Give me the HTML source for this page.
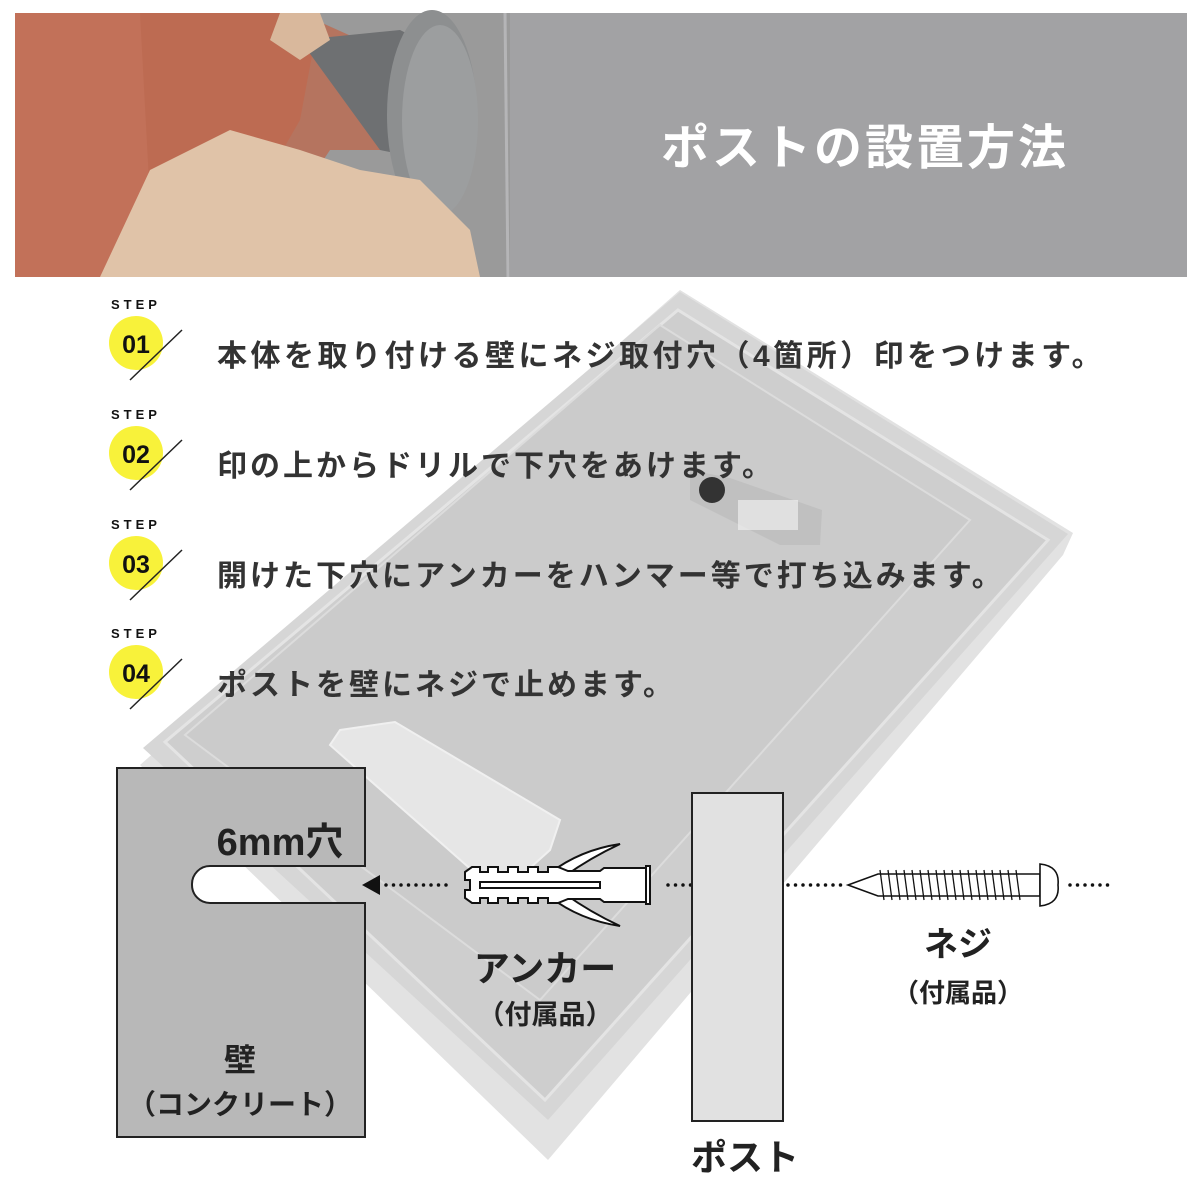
<!DOCTYPE html>
<html><head><meta charset="utf-8"><style>
html,body{margin:0;padding:0;background:#fff;width:1200px;height:1200px;overflow:hidden}
svg{display:block}
text{font-family:"Liberation Sans","Noto Sans CJK JP",sans-serif;font-weight:bold}
</style></head><body>
<svg width="1200" height="1200" viewBox="0 0 1200 1200" xmlns="http://www.w3.org/2000/svg">
<!-- banner -->
<rect x="15" y="13" width="1172" height="264" fill="#a2a2a4"/>
<rect x="15" y="13" width="495" height="264" fill="#9a9a9a"/>
<path d="M15,13 H320 L300,120 L210,277 H15Z" fill="#c27159"/>
<path d="M140,13 H300 L360,40 L430,60 L470,130 L440,200 L400,150 L330,150 L270,240 L200,277 H130 L150,200 Z" fill="#bb6a50" opacity="0.8"/>
<path d="M300,40 L400,30 L460,60 L470,140 L430,160 L380,150 Z" fill="#6e7072"/>
<ellipse cx="432" cy="115" rx="45" ry="105" fill="#8d8f90"/>
<ellipse cx="440" cy="120" rx="38" ry="95" fill="#9c9e9f"/>
<path d="M100,277 L150,170 L230,130 L300,150 L360,170 L420,180 L470,230 L480,277 Z" fill="#e0c3a8"/>
<path d="M280,13 H320 L330,40 L300,60 L270,40Z" fill="#d9b89c"/>
<line x1="505" y1="13" x2="508" y2="277" stroke="#b5b5b7" stroke-width="3"/>
<text x="865" y="164" font-size="48" fill="#fff" text-anchor="middle" letter-spacing="3">ポストの設置方法</text>

<!-- mailbox -->
<polygon points="680,290 1073,533 1063,555 548,1160 140,765" fill="#e2e2e2"/>
<polygon points="680,292 1068,534 548,1120 143,748" fill="#d6d6d6"/>
<polygon points="678,310 1048,540 545,1100 165,742" fill="#cecece" stroke="#e4e4e4" stroke-width="3"/>
<polygon points="660,325 970,520 540,1000 185,735" fill="#cbcbcb" stroke="#dcdcdc" stroke-width="2"/>
<polygon points="340,730 395,722 560,820 550,850 500,895 330,745" fill="#e6e6e6" stroke="#f0f0f0" stroke-width="2"/>
<polygon points="690,470 730,478 822,510 820,545 780,545 690,500" fill="#c0c0c0"/>
<circle cx="712" cy="490" r="13" fill="#333"/>
<rect x="738" y="500" width="60" height="30" fill="#eee" opacity="0.7"/>

<!-- wall -->
<path d="M117,768 H365 V866 H210 A18,18 0 0 0 192,884 V885 A18,18 0 0 0 210,903 H365 V1137 H117 Z" fill="#b8b8b8" stroke="#222" stroke-width="2"/>
<text x="280" y="855" font-size="38" fill="#222" text-anchor="middle">6mm穴</text>
<text x="240" y="1071" font-size="32" fill="#222" text-anchor="middle">壁</text>
<text x="240" y="1114" font-size="28" fill="#222" text-anchor="middle">（コンクリート）</text>

<!-- arrow + dots -->
<polygon points="362,885 380,875 380,895" fill="#111"/>
<line x1="386" y1="885" x2="448" y2="885" stroke="#111" stroke-width="3.5" stroke-dasharray="0 7.5" stroke-linecap="round"/>
<line x1="668" y1="885" x2="843" y2="885" stroke="#111" stroke-width="3.5" stroke-dasharray="0 7.5" stroke-linecap="round"/>
<line x1="1070" y1="885" x2="1115" y2="885" stroke="#111" stroke-width="3.5" stroke-dasharray="0 7.5" stroke-linecap="round"/>

<!-- anchor -->
<g fill="#fff" stroke="#111" stroke-width="2">
<path d="M550,873 Q580,850 620,844 Q590,858 565,876Z"/>
<path d="M550,897 Q580,920 620,926 Q590,912 565,894Z"/>
<path d="M465,872 L472,867 H480 V872 H488 V867 H498 V872 H508 V867 H518 V872 H528 V867 H538 V872 H548 V867 H558 L568,871 H600 L604,868 H646 V902 H604 L600,899 H568 L558,903 H548 V898 H538 V903 H528 V898 H518 V903 H508 V898 H498 V903 H488 V898 H480 V903 H472 L465,898 V890 H470 V880 H465Z"/>
<rect x="646" y="866" width="4" height="38"/>
<rect x="480" y="882" width="120" height="6"/>
</g>
<text x="545" y="981" font-size="36" fill="#222" text-anchor="middle">アンカー</text>
<text x="545" y="1024" font-size="27" fill="#222" text-anchor="middle">（付属品）</text>

<!-- post -->
<rect x="692" y="793" width="91" height="328" fill="#e1e1e1" stroke="#222" stroke-width="2"/>
<text x="745" y="1170" font-size="36" fill="#222" text-anchor="middle">ポスト</text>

<!-- screw -->
<g stroke="#111" stroke-width="1.6" fill="#fff">
<path d="M848,885 L878,874 H1040 V896 H878 Z"/>
<path d="M1040,864 Q1060,866 1058,885 Q1060,904 1040,906 Z"/>
</g>
<g stroke="#111" stroke-width="1.3">
<line x1="880" y1="870" x2="884" y2="900"/><line x1="888" y1="870" x2="892" y2="900"/><line x1="896" y1="870" x2="900" y2="900"/><line x1="904" y1="870" x2="908" y2="900"/><line x1="912" y1="870" x2="916" y2="900"/><line x1="920" y1="870" x2="924" y2="900"/><line x1="928" y1="870" x2="932" y2="900"/><line x1="936" y1="870" x2="940" y2="900"/><line x1="944" y1="870" x2="948" y2="900"/><line x1="952" y1="870" x2="956" y2="900"/><line x1="960" y1="870" x2="964" y2="900"/><line x1="968" y1="870" x2="972" y2="900"/><line x1="976" y1="870" x2="980" y2="900"/><line x1="984" y1="870" x2="988" y2="900"/><line x1="992" y1="870" x2="996" y2="900"/><line x1="1000" y1="870" x2="1004" y2="900"/><line x1="1008" y1="870" x2="1012" y2="900"/><line x1="1016" y1="870" x2="1020" y2="900"/>
</g>
<text x="958" y="956" font-size="34" fill="#222" text-anchor="middle">ネジ</text>
<text x="958" y="1002" font-size="26" fill="#222" text-anchor="middle">（付属品）</text>

<!-- steps -->
<g>
<circle cx="136" cy="343" r="27" fill="#f8f23a"/>
<line x1="130" y1="380" x2="182" y2="330" stroke="#222" stroke-width="1.5"/>
<text x="136" y="353" font-size="25" fill="#111" text-anchor="middle">01</text>
<text x="136" y="309" font-size="13" fill="#111" text-anchor="middle" letter-spacing="4">STEP</text>
<text x="217" y="366" font-size="30" fill="#333" letter-spacing="3.5">本体を取り付ける壁にネジ取付穴（4箇所）印をつけます。</text>
</g>
<g transform="translate(0,110)">
<circle cx="136" cy="343" r="27" fill="#f8f23a"/>
<line x1="130" y1="380" x2="182" y2="330" stroke="#222" stroke-width="1.5"/>
<text x="136" y="353" font-size="25" fill="#111" text-anchor="middle">02</text>
<text x="136" y="309" font-size="13" fill="#111" text-anchor="middle" letter-spacing="4">STEP</text>
<text x="217" y="366" font-size="30" fill="#333" letter-spacing="3">印の上からドリルで下穴をあけます。</text>
</g>
<g transform="translate(0,220)">
<circle cx="136" cy="343" r="27" fill="#f8f23a"/>
<line x1="130" y1="380" x2="182" y2="330" stroke="#222" stroke-width="1.5"/>
<text x="136" y="353" font-size="25" fill="#111" text-anchor="middle">03</text>
<text x="136" y="309" font-size="13" fill="#111" text-anchor="middle" letter-spacing="4">STEP</text>
<text x="217" y="366" font-size="30" fill="#333" letter-spacing="3">開けた下穴にアンカーをハンマー等で打ち込みます。</text>
</g>
<g transform="translate(0,329)">
<circle cx="136" cy="343" r="27" fill="#f8f23a"/>
<line x1="130" y1="380" x2="182" y2="330" stroke="#222" stroke-width="1.5"/>
<text x="136" y="353" font-size="25" fill="#111" text-anchor="middle">04</text>
<text x="136" y="309" font-size="13" fill="#111" text-anchor="middle" letter-spacing="4">STEP</text>
<text x="217" y="366" font-size="30" fill="#333" letter-spacing="3">ポストを壁にネジで止めます。</text>
</g>
</svg>
</body></html>
